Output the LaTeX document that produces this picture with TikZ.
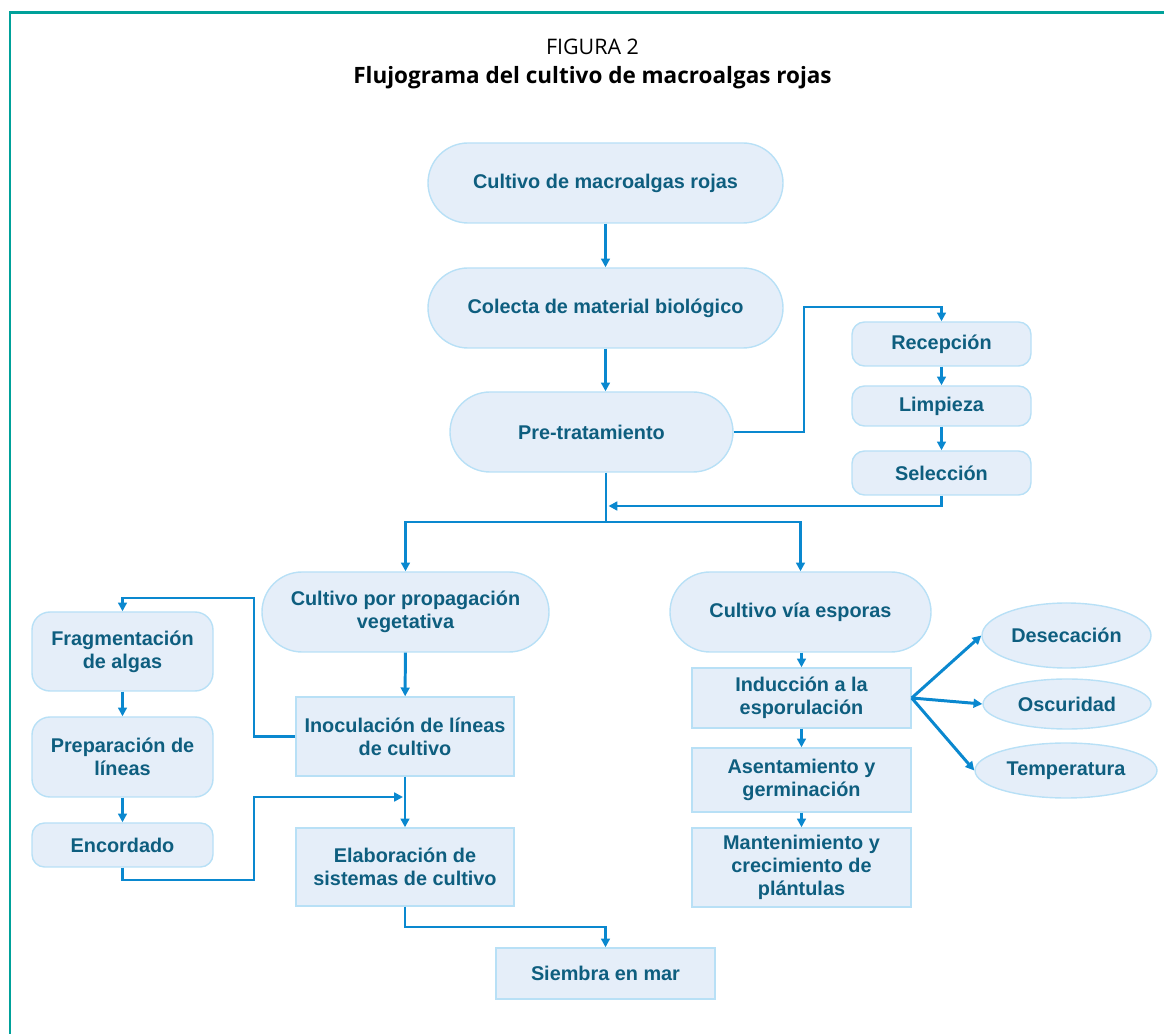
\documentclass[tikz,border=0pt]{standalone}
\usepackage{fontspec}
\setmainfont{Liberation Sans}
\newfontfamily\titlefont{Open Sans}
\usetikzlibrary{shapes.geometric,arrows.meta}
\definecolor{frame}{HTML}{00A19A}
\definecolor{boxfill}{HTML}{E5EEF9}
\definecolor{boxline}{HTML}{B8E0F6}
\definecolor{boxtext}{HTML}{0E5E7F}
\definecolor{flow}{HTML}{0A88CF}
\begin{document}
\begin{tikzpicture}
      \tikzstyle{block}=[draw=boxline,fill=boxfill,text=boxtext,line width=0.8pt,align=center,inner sep=1pt,font=\fontsize{11.3}{13}\selectfont\bfseries]
      \tikzstyle{stadium}=[block,rounded corners=0.8cm,minimum height=1.6cm]
      \tikzstyle{soft}=[block,rounded corners=0.25cm]
      \tikzstyle{plain}=[block]
      \tikzstyle{oval}=[block,ellipse]
      \tikzstyle{edge}=[draw=flow,line width=1.7pt,-{Triangle[length=5pt,width=5pt]}]
      \tikzstyle{link}=[draw=flow,line width=1.7pt]
      \useasboundingbox (0,0) rectangle (23.28,-20.68);
      \path[draw,frame,line width=1.2pt] (0.2,-20.68) -- (0.2,-0.25) -- (23.28,-0.25);
      \node[font=\titlefont\fontsize{12.2}{14}\selectfont] (fig) at (11.85,-0.94) {FIGURA 2};
      \node[font=\titlefont\bfseries\fontsize{12.8}{15}\selectfont] (title) at (11.85,-1.55) {Flujograma del cultivo de macroalgas rojas};
      \node[stadium,minimum width=7.1cm] (cultivo) at (12.11,-3.66) {Cultivo de macroalgas rojas};
      \node[stadium,minimum width=7.1cm] (colecta) at (12.11,-6.16) {Colecta de material biológico};
      \node[stadium,minimum width=5.66cm] (pretrat) at (11.83,-8.64) {Pre-tratamiento};
      \node[soft,minimum width=3.58cm,minimum height=0.88cm] (recep) at (18.83,-6.88) {Recepción};
      \node[soft,minimum width=3.58cm,minimum height=0.8cm] (limp) at (18.83,-8.12) {Limpieza};
      \node[soft,minimum width=3.58cm,minimum height=0.88cm] (selec) at (18.83,-9.46) {Selección};
      \node[stadium,minimum width=5.74cm] (propag) at (8.11,-12.24) {Cultivo por propagación\\vegetativa};
      \node[stadium,minimum width=5.22cm] (esporas) at (16.01,-12.24) {Cultivo vía esporas};
      \node[soft,rounded corners=0.36cm,minimum width=3.62cm,minimum height=1.58cm] (frag) at (2.45,-13.03) {Fragmentación\\de algas};
      \node[soft,rounded corners=0.36cm,minimum width=3.62cm,minimum height=1.6cm] (prepar) at (2.45,-15.14) {Preparación de\\líneas};
      \node[soft,minimum width=3.62cm,minimum height=0.88cm] (encord) at (2.45,-16.9) {Encordado};
      \node[plain,minimum width=4.36cm,minimum height=1.58cm] (inocul) at (8.1,-14.73) {Inoculación de líneas\\de cultivo};
      \node[plain,minimum width=4.36cm,minimum height=1.56cm] (elabor) at (8.1,-17.34) {Elaboración de\\sistemas de cultivo};
      \node[plain,minimum width=4.38cm,minimum height=1.02cm] (siembra) at (12.11,-19.47) {Siembra en mar};
      \node[plain,minimum width=4.38cm,minimum height=1.2cm] (induc) at (16.03,-13.96) {Inducción a la\\esporulación};
      \node[plain,minimum width=4.38cm,minimum height=1.28cm] (asent) at (16.03,-15.6) {Asentamiento y\\germinación};
      \node[plain,minimum width=4.38cm,minimum height=1.58cm] (mant) at (16.03,-17.35) {Mantenimiento y\\crecimiento de\\plántulas};
      \node[oval,minimum width=3.38cm,minimum height=1.3cm] (desec) at (21.33,-12.71) {Desecación};
      \node[oval,minimum width=3.36cm,minimum height=1.0cm] (oscur) at (21.34,-14.08) {Oscuridad};
      \node[oval,minimum width=3.64cm,minimum height=1.1cm] (temp) at (21.32,-15.41) {Temperatura};
      \coordinate (bendA) at (16.08,-6.14);
      \coordinate (merge) at (12.17,-10.12);
      \coordinate (split) at (12.12,-10.44);
      \coordinate (loopA) at (5.08,-11.96);
      \coordinate (loopB) at (5.08,-17.6);
      \coordinate (joinB) at (8.06,-15.94);
      \coordinate (downC) at (12.11,-18.54);
      \path[edge] (cultivo) -- (colecta);
      \path[edge] (colecta.south) -- (colecta.south |- pretrat.north);
      \path[edge] (pretrat.east) -| (bendA) -| (recep.north);
      \path[edge] (recep) -- (limp);
      \path[edge] (limp) -- (selec);
      \path[edge] (selec.south) |- (merge);
      \path[link] (pretrat.south -| split) -- (split);
      \path[edge] (split) -| (propag.north);
      \path[edge] (split) -| (esporas.north);
      \path[edge] (propag) -- (inocul);
      \path[edge] (inocul.west) -| (loopA) -| (frag.north);
      \path[edge] (frag) -- (prepar);
      \path[edge] (prepar) -- (encord);
      \path[edge] (encord.south) |- (loopB) |- (joinB);
      \path[edge] (inocul) -- (elabor);
      \path[edge] (elabor.south) |- (downC) -- (siembra.north);
      \path[edge] (esporas.south -| induc.north) -- (induc.north);
      \path[edge] (induc) -- (asent);
      \path[edge] (asent) -- (mant);
      \path[edge] (induc.east) -- (desec.west);
      \path[edge] (induc.east) -- (oscur.west);
      \path[edge] (induc.east) -- (temp.west);
    \end{tikzpicture}
\end{document}
